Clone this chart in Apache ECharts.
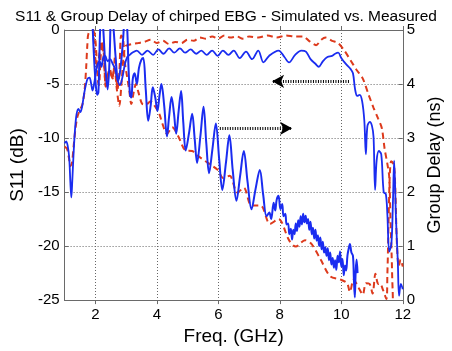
<!DOCTYPE html>
<html>
<head>
<meta charset="utf-8">
<script src="https://cdn.jsdelivr.net/npm/echarts@6/dist/echarts.min.js"></script>
<style>
  html, body { margin: 0; padding: 0; background: #fff; }
  #chart { width: 452px; height: 351px; }
</style>
</head>
<body>
<div id="chart"></div>
<script>
// Chirped EBG: reflection (S11, dB) and group delay (ns) versus frequency (GHz)
const titleText = 'S11 & Group Delay of chirped EBG - Simulated vs. Measured';
const freqTicks = [2, 4, 6, 8, 10, 12];

// S11, measured [GHz, dB]
const s11Measured = [
  [1.00,-10.5],[1.05,-10.3],[1.10,-10.7],[1.15,-11.8],[1.19,-14.2],[1.22,-15.5],[1.25,-14.0],
  [1.29,-11.6],[1.34,-9.2],[1.39,-7.8],[1.45,-7.3],[1.51,-7.6],[1.57,-7.1],[1.63,-6.0],
  [1.69,-5.1],[1.75,-4.5],[1.81,-4.4],[1.86,-4.9],[1.91,-5.6],[1.96,-5.0],[2.02,-3.9],
  [2.08,-3.1],[2.14,-2.9],[2.20,-3.4],[2.26,-2.5],[2.32,-2.4],[2.40,-2.9],[2.48,-2.7],
  [2.56,-3.1],[2.64,-3.6],[2.72,-4.6],[2.80,-5.1],[2.88,-4.4],[2.96,-3.2],[3.04,-2.5],
  [3.12,-2.3],[3.20,-2.1],[3.35,-1.9],[3.52,-2.3],[3.70,-1.9],[3.88,-2.3],[4.05,-1.8],
  [4.22,-2.2],[4.40,-1.7],[4.57,-2.1],[4.75,-1.7],[4.92,-2.1],[5.10,-1.8],[5.28,-2.2],
  [5.45,-1.9],[5.62,-2.3],[5.80,-1.9],[5.98,-2.4],[6.15,-1.9],[6.33,-2.3],[6.50,-1.9],
  [6.70,-2.6],[6.90,-2.0],[7.10,-2.7],[7.30,-1.9],[7.47,-3.0],[7.65,-2.4],[7.96,-1.9],
  [8.15,-2.5],[8.30,-3.0],[8.50,-2.3],[8.70,-1.9],[8.85,-2.0],[9.00,-2.7],[9.15,-3.1],
  [9.27,-3.4],[9.40,-2.9],[9.55,-2.5],[9.70,-2.4],[9.80,-2.2],[9.90,-2.1],[10.00,-2.6],
  [10.08,-2.9],[10.20,-3.3],[10.30,-3.6],[10.38,-4.0],[10.45,-5.5],[10.52,-6.1],[10.60,-6.0],
  [10.68,-6.6],[10.75,-8.4],[10.80,-11.5],[10.85,-8.9],[10.93,-8.5],[11.00,-8.9],[11.05,-9.9],
  [11.10,-14.8],[11.15,-12.1],[11.22,-11.2],[11.30,-11.5],[11.38,-15.0],[11.45,-15.2],
  [11.50,-17.1],[11.56,-20.5],[11.63,-19.8],[11.68,-16.0],[11.72,-12.1],[11.78,-17.5],
  [11.84,-21.5],[11.88,-24.6],[11.94,-23.5],[12.00,-24.0]
];

// S11, simulated [GHz, dB]
const s11Simulated = [
  [1.00,-10.8],[1.08,-11.0],[1.14,-11.8],[1.19,-12.6],[1.24,-12.3],[1.30,-10.6],[1.36,-9.0],
  [1.42,-8.0],[1.50,-7.4],[1.58,-6.9],[1.65,-5.6],[1.70,-3.6],[1.74,-1.4],[1.78,-0.3],
  [1.88,-0.2],[1.96,-0.2],[2.02,-1.6],[2.08,-4.6],[2.12,-5.1],[2.17,-2.6],[2.22,-1.2],
  [2.28,-2.8],[2.34,-5.2],[2.40,-4.2],[2.47,-3.6],[2.55,-4.5],[2.62,-3.4],[2.70,-5.5],
  [2.78,-7.0],[2.85,-5.0],[2.92,-2.4],[2.98,-1.5],[3.05,-1.4],[3.20,-1.3],[3.40,-1.2],
  [3.60,-1.1],[3.80,-0.9],[4.00,-1.2],[4.20,-1.0],[4.40,-1.3],[4.60,-1.1],[4.80,-1.2],
  [5.00,-0.9],[5.20,-1.0],[5.40,-0.7],[5.60,-0.8],[5.80,-0.6],[6.00,-0.8],[6.20,-0.5],
  [6.40,-0.7],[6.60,-0.6],[6.80,-0.8],[7.00,-0.6],[7.30,-0.7],[7.60,-0.5],[7.90,-0.7],
  [8.20,-0.5],[8.50,-0.6],[8.76,-0.6],[8.95,-1.0],[9.18,-1.4],[9.35,-0.9],[9.49,-0.7],
  [9.70,-1.0],[9.89,-1.2],[10.10,-1.9],[10.30,-2.8],[10.50,-3.7],[10.70,-4.5],[10.89,-6.0],
  [11.05,-7.2],[11.20,-8.2],[11.32,-9.1],[11.41,-11.0],[11.50,-12.4],[11.56,-13.6],
  [11.60,-17.5],[11.64,-21.0],[11.67,-24.0],[11.72,-26.0],[12.00,-27.0]
];

// Group delay, measured [GHz, ns]
const gdMeasured = [
  [1.80,6.2],[1.88,5.5],[1.94,4.7],[2.00,4.1],[2.06,3.8],[2.10,3.85],[2.15,4.9],[2.20,5.4],
  [2.26,5.0],[2.33,4.3],[2.40,3.9],[2.46,4.4],[2.52,5.3],[2.58,5.1],[2.66,4.5],[2.74,4.05],
  [2.82,4.3],[2.90,4.8],[2.97,5.3],[3.03,5.1],[3.08,4.3],[3.13,3.8],[3.17,3.75],[3.22,4.1],
  [3.28,4.2],[3.35,4.0],[3.42,4.3],[3.50,4.45],[3.56,4.48],[3.64,3.9],[3.72,3.32],[3.80,3.6],
  [3.87,3.94],[3.95,3.75],[4.02,3.50],[4.09,3.8],[4.15,4.00],[4.24,3.6],[4.33,3.03],[4.40,3.4],
  [4.48,3.76],[4.56,3.45],[4.63,3.08],[4.71,3.5],[4.79,3.87],[4.86,3.3],[4.94,2.77],[5.05,3.1],
  [5.15,3.45],[5.23,3.0],[5.31,2.54],[5.42,3.05],[5.52,3.58],[5.61,2.9],[5.70,2.35],[5.81,2.8],
  [5.92,3.27],[6.03,2.6],[6.13,2.04],[6.25,2.55],[6.36,3.05],[6.47,2.4],[6.59,1.84],[6.71,2.3],
  [6.83,2.76],[6.95,2.2],[7.08,1.68],[7.21,2.05],[7.35,2.41],[7.46,1.95],[7.57,1.55],[7.66,1.62],
  [7.72,1.5],[7.80,1.8],[7.85,1.66],[7.90,1.86],[7.96,1.93],[8.02,1.68],[8.08,1.78],[8.12,1.55],
  [8.18,1.6],[8.22,1.4],[8.27,1.42],[8.31,1.22],[8.36,1.32],[8.40,1.12],[8.44,1.3],[8.48,1.22],
  [8.52,1.42],[8.56,1.28],[8.60,1.48],[8.64,1.36],[8.68,1.55],[8.72,1.4],[8.76,1.6],[8.80,1.44],
  [8.84,1.56],[8.88,1.42],[8.92,1.5],[8.96,1.3],[9.00,1.45],[9.04,1.22],[9.08,1.34],[9.12,1.14],
  [9.16,1.3],[9.20,1.1],[9.24,1.2],[9.28,1.0],[9.32,1.16],[9.36,0.94],[9.40,1.08],[9.44,0.88],
  [9.48,0.98],[9.52,0.82],[9.56,0.96],[9.60,0.74],[9.64,0.88],[9.68,0.66],[9.72,0.78],[9.76,0.6],
  [9.80,0.74],[9.84,0.56],[9.88,0.82],[9.92,0.7],[9.96,0.9],[10.00,0.62],[10.04,0.76],
  [10.08,0.46],[10.12,0.64],[10.16,0.55],[10.20,0.82],[10.24,0.95],[10.28,1.04],[10.33,0.88],
  [10.38,0.82],[10.41,0.4],[10.44,0.05],[10.47,0.55],[10.50,0.75],[10.53,0.5]
];

// Group delay, simulated [GHz, ns]
const gdSimulated = [
  [1.85,5.6],[1.92,5.1],[1.98,4.6],[2.05,4.3],[2.12,4.5],[2.20,4.8],[2.27,4.6],[2.34,3.95],
  [2.40,4.15],[2.48,4.2],[2.56,4.1],[2.64,4.5],[2.72,3.9],[2.78,4.2],[2.84,4.9],[2.90,4.85],
  [2.96,4.4],[3.02,4.18],[3.10,3.9],[3.17,3.63],[3.25,3.85],[3.32,4.0],[3.40,3.85],[3.53,3.63],
  [3.65,3.62],[3.80,3.68],[3.95,3.58],[4.08,3.45],[4.18,3.27],[4.33,3.08],[4.50,3.2],[4.70,3.03],
  [4.94,2.77],[5.15,2.76],[5.36,2.66],[5.66,2.54],[5.98,2.41],[6.16,2.26],[6.37,2.3],[6.62,1.99],
  [6.83,2.08],[7.08,1.75],[7.38,1.75],[7.68,1.41],[7.96,1.5],[8.30,1.11],[8.52,0.99],[8.82,1.11],
  [9.03,1.04],[9.33,0.75],[9.64,0.44],[9.98,0.38],[10.19,0.31],[10.28,0.15],[10.40,0.38],
  [10.50,0.3],[10.59,0.2],[10.70,0.1],[10.80,0.31],[10.92,0.3],[11.02,0.12],[11.11,0.49],
  [11.20,0.3],[11.26,0.31],[11.35,0.2],[11.47,0.02],[11.50,0.49],[11.62,2.57],[11.72,2.5],
  [11.81,1.04],[11.87,0.62],[11.93,0.75],[12.00,0.62]
];

// Dotted arrows pointing each trace to its axis [GHz, dB]
const arrowToS11Axis = [[10.25, -4.75], [7.75, -4.75]];
const arrowToDelayAxis = [[6.05, -9.1], [8.4, -9.1]];

const FONT = '"Liberation Sans", Arial, Helvetica, sans-serif';
const BLUE = '#1a2cf0';
const RED = '#dd3a1c';
const BOX = '#6a6a6a';
const GRID = '#666';

const chart = echarts.init(document.getElementById('chart'), null, { renderer: 'canvas' });

const textBase = { fontFamily: FONT, color: '#000' };

chart.setOption({
  animation: false,
  backgroundColor: '#fff',
  title: {
    text: titleText,
    left: 'center',
    top: 4,
    textStyle: Object.assign({ fontSize: 15.5, fontWeight: 'normal' }, textBase)
  },
  grid: { left: 59, right: 33, top: 30, bottom: 47 },
  xAxis: [
    {
      type: 'value', min: 1, max: 12, position: 'bottom',
      name: 'Freq. (GHz)', nameLocation: 'middle', nameGap: 22,
      nameTextStyle: Object.assign({ fontSize: 19 }, textBase),
      axisLine: { show: true, lineStyle: { color: BOX, width: 1 } },
      axisTick: { show: true, inside: true, length: 4, customValues: freqTicks, lineStyle: { color: BOX } },
      axisLabel: Object.assign({ customValues: freqTicks, fontSize: 15, margin: 7 }, textBase),
      splitLine: { show: true, lineStyle: { type: [1, 2], color: GRID, width: 1 } }
    },
    {
      type: 'value', min: 1, max: 12, position: 'top',
      axisLine: { show: true, lineStyle: { color: BOX, width: 1 } },
      axisTick: { show: true, inside: true, length: 4, customValues: freqTicks, lineStyle: { color: BOX } },
      axisLabel: { show: false },
      splitLine: { show: false }
    }
  ],
  yAxis: [
    {
      type: 'value', min: -25, max: 0, interval: 5, position: 'left',
      name: 'S11 (dB)', nameLocation: 'middle', nameGap: 30, nameRotate: 90,
      nameTextStyle: Object.assign({ fontSize: 19 }, textBase),
      axisLine: { show: true, lineStyle: { color: BOX, width: 1 } },
      axisTick: { show: true, inside: true, length: 4, lineStyle: { color: BOX } },
      axisLabel: Object.assign({ fontSize: 15, margin: 5 }, textBase),
      splitLine: { show: true, lineStyle: { type: [1, 2], color: GRID, width: 1 } }
    },
    {
      type: 'value', min: 0, max: 5, interval: 1, position: 'right',
      name: 'Group Delay (ns)', nameLocation: 'middle', nameGap: 20, nameRotate: 90,
      nameTextStyle: Object.assign({ fontSize: 18 }, textBase),
      axisLine: { show: true, lineStyle: { color: BOX, width: 1 } },
      axisTick: { show: true, inside: true, length: 4, lineStyle: { color: BOX } },
      axisLabel: Object.assign({ fontSize: 15, margin: 4 }, textBase),
      splitLine: { show: false }
    }
  ],
  series: [
    {
      name: 'S11 simulated', type: 'line', xAxisIndex: 0, yAxisIndex: 0,
      data: s11Simulated, showSymbol: false, clip: true, smooth: 0.3,
      lineStyle: { color: RED, width: 2, type: [6, 4] }
    },
    {
      name: 'Group delay simulated', type: 'line', xAxisIndex: 0, yAxisIndex: 1,
      data: gdSimulated, showSymbol: false, clip: true, smooth: 0.3,
      lineStyle: { color: RED, width: 2, type: [6, 4] }
    },
    {
      name: 'S11 measured', type: 'line', xAxisIndex: 0, yAxisIndex: 0,
      data: s11Measured, showSymbol: false, clip: true, smooth: 0.35,
      lineStyle: { color: BLUE, width: 1.8 }
    },
    {
      name: 'Group delay measured', type: 'line', xAxisIndex: 0, yAxisIndex: 1,
      data: gdMeasured, showSymbol: false, clip: true, smooth: 0.35,
      lineStyle: { color: BLUE, width: 2 }
    },
    {
      name: 'arrows', type: 'line', xAxisIndex: 0, yAxisIndex: 0,
      data: [], showSymbol: false,
      markLine: {
        silent: true,
        symbol: ['none', 'arrow'],
        symbolSize: [10, 12],
        label: { show: false },
        lineStyle: { color: '#000', width: 3, type: [1, 1.5] },
        data: [
          [{ coord: arrowToS11Axis[0] }, { coord: arrowToS11Axis[1] }],
          [{ coord: arrowToDelayAxis[0] }, { coord: arrowToDelayAxis[1] }]
        ]
      }
    }
  ]
});
</script>
</body>
</html>
